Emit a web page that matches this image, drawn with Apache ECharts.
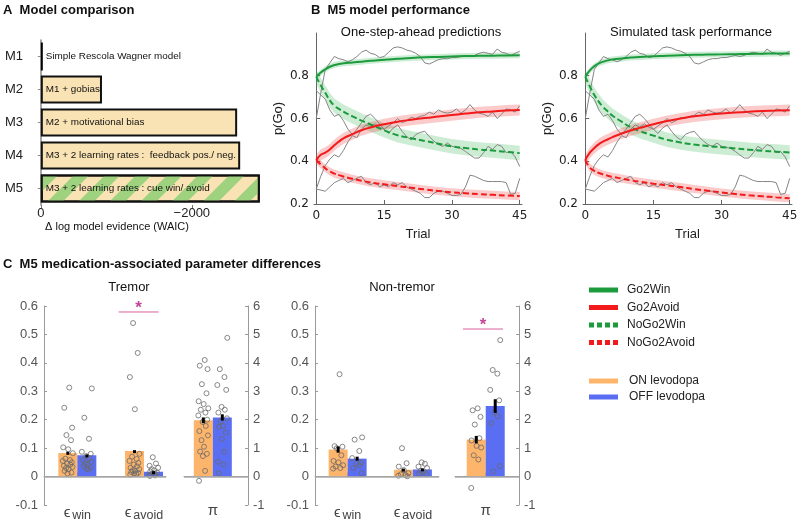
<!DOCTYPE html>
<html><head><meta charset="utf-8">
<script src="https://cdn.jsdelivr.net/npm/echarts@6/dist/echarts.min.js"></script>
<style>html,body{margin:0;padding:0;background:#fff}#c{width:800px;height:521px}</style>
</head><body><div id="c"></div>
<script>
// ---------------- Panel A data ----------------
const modelNames = ['M1', 'M2', 'M3', 'M4', 'M5'];
const modelDesc = ['Simple Rescola Wagner model', 'M1 + gobias', 'M2 + motivational bias',
  'M3 + 2 learning rates :  feedback pos./ neg.', 'M3 + 2 learning rates : cue win/ avoid'];
const modelEvidence = [0, -810, -2600, -2640, -2900];
const modelTicks = [0, -2000];

// ---------------- Panel B data ----------------
const trials = [0,1,2,3,4,5,6,7,8,9,10,11,12,13,14,15,16,17,18,19,20,21,22,23,24,25,26,27,28,29,30,31,32,33,34,35,36,37,38,39,40,41,42,43,44,45];
const trialTicks = [0, 15, 30, 45];
const pTicks = [0.2, 0.4, 0.6, 0.8];
const curveTrials = [0,1,2,3,4,5,6,8,10,12,15,18,21,24,27,30,33,36,39,42,45];

const predGo2Win    = [0.795,0.815,0.83,0.842,0.85,0.855,0.858,0.862,0.866,0.87,0.875,0.879,0.883,0.886,0.888,0.89,0.892,0.893,0.894,0.895,0.896];
const predNoGo2Win  = [0.795,0.755,0.72,0.685,0.66,0.645,0.632,0.61,0.59,0.572,0.545,0.522,0.508,0.495,0.482,0.47,0.462,0.455,0.45,0.444,0.438];
const predGo2Avoid  = [0.405,0.43,0.44,0.455,0.475,0.492,0.507,0.527,0.545,0.558,0.573,0.585,0.594,0.602,0.609,0.616,0.623,0.629,0.633,0.637,0.64];
const predNoGo2Avoid= [0.405,0.385,0.367,0.352,0.342,0.335,0.329,0.318,0.309,0.301,0.292,0.284,0.276,0.268,0.261,0.255,0.25,0.246,0.243,0.24,0.237];

const simGo2Win     = [0.795,0.825,0.845,0.858,0.866,0.872,0.876,0.881,0.885,0.888,0.891,0.894,0.896,0.898,0.899,0.9,0.901,0.902,0.903,0.904,0.904];
const simNoGo2Win   = [0.795,0.75,0.71,0.678,0.652,0.632,0.613,0.585,0.559,0.541,0.52,0.501,0.488,0.478,0.471,0.466,0.46,0.454,0.449,0.445,0.441];
const simGo2Avoid   = [0.405,0.44,0.462,0.48,0.493,0.503,0.513,0.53,0.544,0.556,0.573,0.588,0.6,0.61,0.617,0.623,0.628,0.632,0.635,0.637,0.639];
const simNoGo2Avoid = [0.405,0.37,0.355,0.345,0.338,0.332,0.327,0.319,0.311,0.304,0.295,0.287,0.279,0.27,0.262,0.254,0.247,0.241,0.236,0.231,0.227];

// half widths of the shaded uncertainty bands
const bandGo2Win = 0.014, bandNoGo2Win = 0.034, bandGo2Avoid = 0.026, bandNoGo2Avoid = 0.019;

// observed data (grey lines)
const obsGo2Win = [0.60,0.72,0.83,0.86,0.89,0.88,0.875,0.865,0.875,0.89,0.91,0.92,0.905,0.90,0.885,0.89,0.91,0.93,0.935,0.93,0.92,0.915,0.905,0.89,0.86,0.855,0.865,0.875,0.88,0.88,0.885,0.885,0.89,0.895,0.89,0.895,0.905,0.91,0.905,0.90,0.925,0.91,0.905,0.895,0.905,0.915];
const obsNoGo2Win = [0.73,0.71,0.69,0.64,0.61,0.62,0.59,0.55,0.525,0.55,0.58,0.61,0.62,0.60,0.575,0.55,0.53,0.555,0.57,0.54,0.515,0.50,0.525,0.535,0.54,0.515,0.495,0.478,0.47,0.485,0.47,0.465,0.46,0.446,0.43,0.415,0.415,0.44,0.47,0.455,0.478,0.47,0.44,0.446,0.42,0.375];
const obsGo2Avoid = [0.27,0.33,0.38,0.41,0.43,0.42,0.45,0.49,0.52,0.51,0.55,0.57,0.56,0.575,0.56,0.55,0.565,0.58,0.60,0.58,0.59,0.605,0.60,0.61,0.615,0.63,0.62,0.64,0.63,0.625,0.63,0.645,0.625,0.64,0.665,0.64,0.625,0.62,0.61,0.63,0.60,0.62,0.645,0.64,0.63,0.66];
const obsNoGo2Avoid = [0.27,0.265,0.26,0.28,0.30,0.31,0.32,0.30,0.31,0.32,0.33,0.30,0.29,0.30,0.28,0.29,0.28,0.30,0.29,0.30,0.28,0.27,0.26,0.25,0.23,0.23,0.25,0.26,0.26,0.25,0.24,0.24,0.245,0.28,0.335,0.33,0.32,0.31,0.305,0.305,0.305,0.305,0.30,0.245,0.25,0.32];

// ---------------- Panel C data ----------------
const epsLabels = ['win', 'avoid'];
const piLabel = 'π';
// Tremor
const trMeanOn = [0.083, 0.09],  trSemOn = [0.004, 0.003];
const trMeanOff = [0.075, 0.017], trSemOff = [0.003, 0.002];
const trPiMean = [1.98, 2.08], trPiSem = [0.1, 0.11];
const trWinOn = [0.313,0.242,0.172,0.146,0.128,0.103,0.096,0.082,0.063,0.058,0.055,0.05,0.046,0.042,0.038,0.034,0.03,0.026,0.02,0.014,0.011];
const trWinOff = [0.31,0.207,0.133,0.087,0.08,0.072,0.064,0.058,0.052,0.047,0.042,0.037,0.032,0.028,0.025];
const trAvoidOn = [0.54,0.435,0.35,0.237,0.08,0.07,0.062,0.055,0.048,0.042,0.036,0.031,0.026,0.022,0.019,0.016,0.013,0.011,0.009,0.007];
const trAvoidOff = [0.068,0.046,0.038,0.031,0.026,0.022,0.018,0.014,0.011,0.008,0.006,0.004,0.002];
const trPiOn = [4.1,3.9,3.78,3.25,2.93,2.65,2.55,2.4,2.35,2.25,2.15,2.0,1.92,1.78,1.6,1.45,1.28,1.05,0.88,0.8,0.72,0.2,-0.15];
const trPiOff = [4.88,3.78,3.5,3.22,3.05,2.45,2.35,2.25,2.05,1.95,1.78,1.75,1.55,1.32,0.88,0.52,0.42,0.12];
// Non-tremor
const ntMeanOn = [0.095, 0.024], ntSemOn = [0.011, 0.004];
const ntMeanOff = [0.063, 0.025], ntSemOff = [0.007, 0.004];
const ntPiMean = [1.3, 2.48], ntPiSem = [0.13, 0.24];
const ntWinOn = [0.36,0.107,0.105,0.1,0.075,0.055,0.05,0.04,0.035,0.03,0.028];
const ntWinOff = [0.138,0.13,0.09,0.065,0.05,0.045,0.04,0.03,0.012];
const ntAvoidOn = [0.1,0.047,0.035,0.023,0.012,0.008,0.005,0.003,0.001];
const ntAvoidOff = [0.05,0.045,0.035,0.03,0.02,0.015,0.01,0.008];
const ntPiOn = [2.4,2.33,2.1,1.83,1.35,1.27,1.08,1.02,0.75,0.6,-0.4];
const ntPiOff = [4.8,3.75,3.62,3.05,2.68,2.25,2.12,1.88,0.37,0.18];
const sigTremorEps = {from: 1.62, to: 2.22, y: 0.579};
const sigNonTremorPi = {from: 0.645, to: 1.27, y: 5.19};

// ---------------- styling ----------------
const SANS = 'Liberation Sans, Arial, sans-serif';
const TICKF = 'DejaVu Sans, Verdana, sans-serif';
const GREEN = '#1c9b3d', RED = '#f21a1a';
const GREEN_BAND = 'rgba(70,185,95,0.27)', RED_BAND = 'rgba(240,70,70,0.28)';
const ON_C = '#fdb46b', OFF_C = '#5a6ef4';
const BAR_W = 19;

const chart = echarts.init(document.getElementById('c'), null, {renderer: 'canvas'});

const grids = [
  {left: 31, top: 40, width: 239, height: 165},   // A
  {left: 314, top: 33, width: 208, height: 171},  // B left
  {left: 583, top: 33, width: 209, height: 171},  // B right
  {left: 44, top: 306, width: 122, height: 199},  // C tremor eps
  {left: 184, top: 306, width: 64, height: 199},  // C tremor pi
  {left: 315, top: 306, width: 124, height: 199}, // C non-tremor eps
  {left: 455, top: 306, width: 64, height: 199}   // C non-tremor pi
].map(g => Object.assign({outerBoundsMode: 'none', containLabel: false}, g));

const xAxes = [], yAxes = [], series = [];

// ---- Panel A ----
xAxes.push({
  gridIndex: 0, type: 'value', inverse: true, min: -3035, max: 130,
  axisLine: {show: false}, splitLine: {show: false},
  axisTick: {show: true, customValues: modelTicks, length: 3, lineStyle: {color: '#777'}},
  axisLabel: {customValues: modelTicks, fontFamily: SANS, fontSize: 13, color: '#222', margin: 2,
    formatter: v => v < 0 ? '\u2212' + Math.abs(v) : String(v)}
});
yAxes.push({
  gridIndex: 0, type: 'category', data: modelNames, inverse: true,
  axisLine: {show: true, lineStyle: {color: '#8a8a8a', width: 1.5}},
  axisTick: {show: true, length: 3, alignWithLabel: true, lineStyle: {color: '#8a8a8a'}},
  axisLabel: {fontFamily: SANS, fontSize: 13, color: '#222', margin: 8},
  splitLine: {show: false}
});
series.push({
  type: 'bar', xAxisIndex: 0, yAxisIndex: 0, barWidth: 28, barMinHeight: 2,
  data: modelEvidence.map((v, i) => {
    let st;
    if (i === 0) st = {color: '#000', borderWidth: 0};
    else {
      st = {color: '#f9e3b4', borderColor: '#111', borderWidth: 2};
      if (i === modelEvidence.length - 1) st.decal = {symbol: 'rect', symbolSize: 1, color: '#9fd27f',
        dashArrayX: [1, 0], dashArrayY: [11, 11], rotation: -Math.PI / 4};
    }
    return {value: v, itemStyle: st};
  }),
  label: {show: true, position: 'insideLeft', distance: 5, formatter: p => modelDesc[p.dataIndex],
    color: '#111', fontFamily: SANS, fontSize: 9.9, overflow: 'none'}
});

// ---- Panel B ----
function bAxes(g) {
  xAxes.push({
    gridIndex: g, type: 'value', min: -0.5, max: 45.5,
    axisLine: {show: true, lineStyle: {color: '#666', width: 1}},
    axisTick: {show: true, inside: true, length: 4, customValues: trialTicks, lineStyle: {color: '#666'}},
    axisLabel: {customValues: trialTicks, fontFamily: TICKF, fontSize: 12, color: '#222', margin: 6},
    splitLine: {show: false},
    name: 'Trial', nameLocation: 'middle', nameGap: 24,
    nameTextStyle: {fontFamily: SANS, fontSize: 13, color: '#222'}
  });
  yAxes.push({
    gridIndex: g, type: 'value', min: 0.2, max: 1.0,
    axisLine: {show: true, lineStyle: {color: '#666', width: 1}},
    axisTick: {show: true, inside: true, length: 4, customValues: pTicks, lineStyle: {color: '#666'}},
    axisLabel: {customValues: pTicks, fontFamily: TICKF, fontSize: 12, color: '#222', margin: 5,
      formatter: v => v.toFixed(1)},
    splitLine: {show: false},
    name: 'p(Go)', nameLocation: 'middle', nameGap: 29,
    nameTextStyle: {fontFamily: SANS, fontSize: 13, color: '#222'}
  });
}
function bandSeries(g, vals, half, color) {
  const hi = curveTrials.map((t, i) => [t, vals[i] + half]);
  const lo = curveTrials.map((t, i) => [t, vals[i] - half]);
  return {type: 'custom', xAxisIndex: g, yAxisIndex: g, silent: true, z: 1,
    data: curveTrials.map((t, i) => [t, vals[i] - half, vals[i] + half]),
    renderItem: (params, api) => {
      if (params.dataIndex !== 0) return {type: 'group', children: []};
      const pts = hi.map(p => api.coord(p)).concat(lo.slice().reverse().map(p => api.coord(p)));
      return {type: 'polygon', shape: {points: pts}, style: {fill: color}};
    }};
}
function bPanel(g, curves) {
  curves.forEach(c => series.push(bandSeries(g, c.vals, c.half, c.band)));
  curves.forEach(c => {
    series.push({type: 'line', xAxisIndex: g, yAxisIndex: g, silent: true, z: 2,
      data: trials.map((t, i) => [t, c.obs[i]]), symbol: 'none',
      lineStyle: {color: '#858585', width: 1}});
  });
  curves.forEach(c => {
    series.push({type: 'line', name: c.name, xAxisIndex: g, yAxisIndex: g, z: 3,
      data: curveTrials.map((t, i) => [t, c.vals[i]]), symbol: 'none', smooth: true,
      itemStyle: {color: c.color},
      lineStyle: {color: c.color, width: 2, type: c.dashed ? [6, 3] : 'solid'}});
  });
}
bAxes(1); bAxes(2);
bPanel(1, [
  {name: 'Go2Win', vals: predGo2Win, half: bandGo2Win, obs: obsGo2Win, color: GREEN, band: GREEN_BAND, dashed: false},
  {name: 'NoGo2Win', vals: predNoGo2Win, half: bandNoGo2Win, obs: obsNoGo2Win, color: GREEN, band: GREEN_BAND, dashed: true},
  {name: 'Go2Avoid', vals: predGo2Avoid, half: bandGo2Avoid, obs: obsGo2Avoid, color: RED, band: RED_BAND, dashed: false},
  {name: 'NoGo2Avoid', vals: predNoGo2Avoid, half: bandNoGo2Avoid, obs: obsNoGo2Avoid, color: RED, band: RED_BAND, dashed: true}
]);
bPanel(2, [
  {name: 'Go2Win', vals: simGo2Win, half: bandGo2Win, obs: obsGo2Win, color: GREEN, band: GREEN_BAND, dashed: false},
  {name: 'NoGo2Win', vals: simNoGo2Win, half: bandNoGo2Win, obs: obsNoGo2Win, color: GREEN, band: GREEN_BAND, dashed: true},
  {name: 'Go2Avoid', vals: simGo2Avoid, half: bandGo2Avoid, obs: obsGo2Avoid, color: RED, band: RED_BAND, dashed: false},
  {name: 'NoGo2Avoid', vals: simNoGo2Avoid, half: bandNoGo2Avoid, obs: obsNoGo2Avoid, color: RED, band: RED_BAND, dashed: true}
]);

// ---- Panel C ----
const jit = [0.2,-0.5,0.6,-0.2,0.45,-0.65,0.05,0.7,-0.35,0.3,-0.7,0.55,-0.1,0.35,-0.55,0.65,-0.25,0.1,-0.45,0.5,-0.05,0.25,-0.6];
const cAxisX = {3: [0.5, 2.33], 4: [0.55, 1.55], 5: [0.5, 2.4], 6: [0.52, 1.52]};
const axC = '#9a9a9a';
function cAxes(g, isPi) {
  const [mn, mx] = cAxisX[g];
  const ticks = isPi ? [1] : [1, 2];
  xAxes.push({
    gridIndex: g, type: 'value', min: mn, max: mx,
    axisLine: {show: true, lineStyle: {color: axC, width: 1}},
    axisTick: {show: true, inside: true, length: 4, customValues: ticks, lineStyle: {color: axC}},
    axisLabel: {customValues: ticks, margin: 0, color: '#444',
      formatter: v => isPi ? '{p|' + piLabel + '}' : '{e|\u03f5}{s|' + epsLabels[Math.round(v) - 1] + '}',
      rich: {
        e: {fontFamily: SANS, fontSize: 15, color: '#444', lineHeight: 10, verticalAlign: 'top', padding: [0, 2, 0, 0]},
        s: {fontFamily: SANS, fontSize: 12.5, color: '#444', lineHeight: 17, verticalAlign: 'bottom'},
        p: {fontFamily: SANS, fontSize: 15, color: '#444', lineHeight: 11}
      }},
    splitLine: {show: false}
  });
  yAxes.push(Object.assign({
    gridIndex: g, type: 'value',
    axisLine: {show: true, lineStyle: {color: axC, width: 1}},
    axisTick: {show: true, inside: true, length: 3, lineStyle: {color: axC}},
    axisLabel: {fontFamily: SANS, fontSize: 13, color: '#555', margin: isPi ? 5 : 6,
      formatter: v => String(+v.toFixed(2))},
    splitLine: {show: false}
  }, isPi ? {position: 'right', min: -1, max: 6, interval: 1} : {position: 'left', min: -0.1, max: 0.6, interval: 0.1}));
}
function cGroup(g, centers, meanOn, semOn, meanOff, semOff, ptsOn, ptsOff, sig) {
  const [mn, mx] = cAxisX[g];
  const ppu = grids[g].width / (mx - mn);
  const d = (BAR_W / 2) / ppu;
  const onX = centers.map(c => c - d), offX = centers.map(c => c + d);
  series.push({type: 'bar', name: 'ON levodopa', xAxisIndex: g, yAxisIndex: g, barWidth: BAR_W, barGap: '-100%',
    itemStyle: {color: ON_C}, z: 2, data: onX.map((x, i) => [x, meanOn[i]]),
    markLine: {silent: true, symbol: ['none', 'none'], label: {show: false},
      lineStyle: {color: '#a8a8a8', width: 1.5, type: 'solid'}, data: [{yAxis: 0}]}});
  series.push({type: 'bar', name: 'OFF levodopa', xAxisIndex: g, yAxisIndex: g, barWidth: BAR_W, barGap: '-100%',
    itemStyle: {color: OFF_C}, z: 2, data: offX.map((x, i) => [x, meanOff[i]])});
  const errData = onX.map((x, i) => [x, meanOn[i], semOn[i]]).concat(offX.map((x, i) => [x, meanOff[i], semOff[i]]));
  series.push({type: 'custom', xAxisIndex: g, yAxisIndex: g, silent: true, z: 4, data: errData,
    renderItem: (params, api) => {
      const x = api.value(0), m = api.value(1), e = api.value(2);
      const p1 = api.coord([x, m + e]), p2 = api.coord([x, m - e]);
      return {type: 'rect', shape: {x: p1[0] - 1.5, y: p1[1], width: 3, height: Math.max(p2[1] - p1[1], 3)},
        style: {fill: '#000'}};
    }});
  const scat = [];
  ptsOn.forEach((arr, k) => arr.forEach((v, i) => scat.push([onX[k] + jit[(i + 3 * k) % jit.length] * d * 0.75, v])));
  ptsOff.forEach((arr, k) => arr.forEach((v, i) => scat.push([offX[k] + jit[(i + 5 * k + 7) % jit.length] * d * 0.75, v])));
  series.push({type: 'scatter', xAxisIndex: g, yAxisIndex: g, silent: true, z: 3, symbol: 'circle', symbolSize: 5,
    itemStyle: {color: 'rgba(0,0,0,0)', borderColor: '#6a6a6a', borderWidth: 1}, data: scat});
  if (sig) {
    series.push({type: 'line', xAxisIndex: g, yAxisIndex: g, silent: true, z: 5, symbol: 'none',
      lineStyle: {color: '#d9609e', width: 1}, data: [[sig.from, sig.y], [sig.to, sig.y]]});
    series.push({type: 'scatter', xAxisIndex: g, yAxisIndex: g, silent: true, z: 5, symbolSize: 1,
      itemStyle: {color: 'rgba(0,0,0,0)'},
      label: {show: true, position: 'inside', offset: [0, -4], formatter: '*', color: '#b0177d',
        fontFamily: SANS, fontSize: 17, fontWeight: 'bold'},
      data: [[(sig.from + sig.to) / 2, sig.y]]});
  }
}
cAxes(3, false); cAxes(4, true); cAxes(5, false); cAxes(6, true);
cGroup(3, [1, 2], trMeanOn, trSemOn, trMeanOff, trSemOff, [trWinOn, trAvoidOn], [trWinOff, trAvoidOff], sigTremorEps);
cGroup(4, [1], [trPiMean[0]], [trPiSem[0]], [trPiMean[1]], [trPiSem[1]], [trPiOn], [trPiOff], null);
cGroup(5, [1, 2], ntMeanOn, ntSemOn, ntMeanOff, ntSemOff, [ntWinOn, ntAvoidOn], [ntWinOff, ntAvoidOff], null);
cGroup(6, [1], [ntPiMean[0]], [ntPiSem[0]], [ntPiMean[1]], [ntPiSem[1]], [ntPiOn], [ntPiOff], sigNonTremorPi);

// ---- texts ----
function txt(x, y, text, font, align) {
  return {type: 'text', x, y, silent: true,
    style: {text, font, fill: '#111', align: align || 'left', verticalAlign: 'middle',
      textAlign: align || 'left', textVerticalAlign: 'middle'}};
}
const graphic = [
  txt(3, 10, 'A  Model comparison', 'bold 13px ' + SANS),
  txt(117, 227, '\u0394 log model evidence (WAIC)', '11px ' + SANS, 'center'),
  txt(311, 10, 'B  M5 model performance', 'bold 13px ' + SANS),
  txt(421, 32, 'One-step-ahead predictions', '13px ' + SANS, 'center'),
  txt(691, 32, 'Simulated task performance', '13px ' + SANS, 'center'),
  txt(3, 264, 'C  M5 medication-associated parameter differences', 'bold 13px ' + SANS),
  txt(129, 287, 'Tremor', '13px ' + SANS, 'center'),
  txt(402, 287, 'Non-tremor', '13px ' + SANS, 'center')
];

const dashIcon = 'path://M0,0h5v5h-5zM8,0h5v5h-5zM16,0h5v5h-5zM24,0h5v5h-5z';
const legend = [
  {orient: 'vertical', left: 584, top: 279, itemWidth: 29, itemHeight: 5, itemGap: 5.5, selectedMode: false,
    itemStyle: {borderWidth: 0},
    textStyle: {fontFamily: SANS, fontSize: 12, color: '#222', padding: [0, 0, 0, 4]},
    data: [{name: 'Go2Win', icon: 'rect'}, {name: 'Go2Avoid', icon: 'rect'},
      {name: 'NoGo2Win', icon: dashIcon}, {name: 'NoGo2Avoid', icon: dashIcon}]},
  {orient: 'vertical', left: 584, top: 370, itemWidth: 29, itemHeight: 5, itemGap: 4, selectedMode: false,
    itemStyle: {borderWidth: 0},
    textStyle: {fontFamily: SANS, fontSize: 12, color: '#222', padding: [0, 0, 0, 6]},
    data: [{name: 'ON levodopa', icon: 'rect'}, {name: 'OFF levodopa', icon: 'rect'}]}
];

chart.setOption({
  animation: false,
  backgroundColor: '#fff',
  grid: grids, xAxis: xAxes, yAxis: yAxes, series, graphic, legend
});
</script></body></html>
